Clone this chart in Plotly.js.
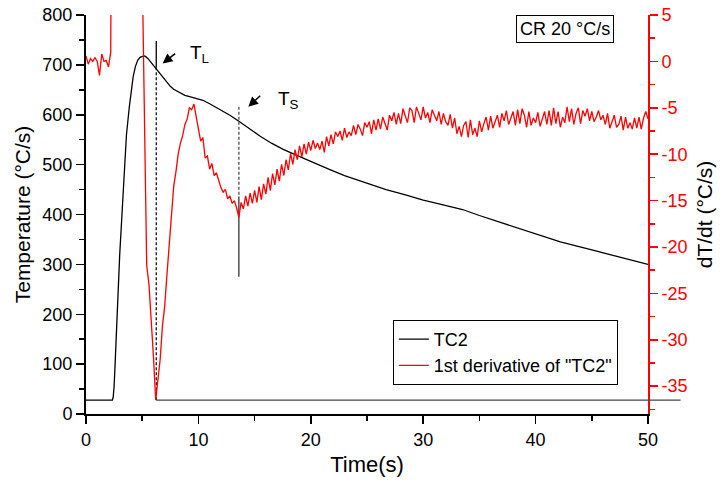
<!DOCTYPE html>
<html><head><meta charset="utf-8">
<script src="https://cdn.plot.ly/plotly-3.0.1.min.js"></script>
<style>html,body{margin:0;padding:0;background:#fff}#chart{width:722px;height:480px}</style>
</head><body><div id="chart"></div>
<script>
// ---- data ----
const tcTime = [0, 2.35, 2.42, 2.5, 2.58, 2.67, 2.8, 3.0, 3.2, 3.38, 3.6, 3.85, 4.0, 4.2, 4.4, 4.6, 4.8, 5.0, 5.15, 5.3, 5.5, 5.75, 6.0, 6.3, 6.6, 6.9, 7.2, 7.5, 7.8, 8.1, 8.4, 8.8, 9.3, 9.8, 10.4, 11.0, 11.9, 12.8, 13.6, 14.5, 15.5, 16.5, 17.5, 18.5, 19.5, 20.8, 21.7, 23.0, 24.5, 26.7, 28.5, 30.0, 31.5, 32.5, 33.5, 35.0, 37.5, 40.0, 42.2, 45.0, 47.5, 50.0];
const tcTemp = [28, 28, 34, 55, 95, 148, 220, 320, 400, 483, 560, 615, 645, 677, 697, 709, 715, 717.5, 718, 717, 713, 706, 699, 690, 681, 672, 664, 657, 651, 647, 643, 639, 636, 633, 629, 622, 611, 599, 587, 572, 557, 543, 531, 521, 511, 499, 490, 478, 466, 450, 439, 429, 421, 416, 410, 398, 380, 361, 345, 329, 314, 300];

const derivStep = 0.2; // sampling interval (s)
const derivRate = [
  0.6, -0.3, 0.3, 0.0, 0.4, 0.0, -1.5, 0.8, 0.0, 0.1,
  -0.6, 1.0, 60, 250, 480, 600, 560, 430, 300, 210,
  150, 100, 65, 40, 25, 10, -8, -22, -24, -27.5,
  -31.8, -36.5, -34.0, -32.1, -28.5, -26.4, -23, -19.5, -16.2, -13.5,
  -11.9, -10.0, -8.8, -8.0, -6.8, -6.2, -5.0, -5.2, -4.6, -6.0,
  -7.5, -8.6, -8.2, -10.4, -10.2, -11.6, -11.0, -12.3, -12.0, -12.8,
  -13.6, -14.1, -13.8, -14.8, -14.5, -15.3, -15.0, -15.8, -16.8, -15.2,
  -15.9, -14.5, -15.6, -14.2, -15.3, -13.9, -15.2, -13.5, -14.9, -13.2,
  -14.3, -12.5, -13.9, -12.1, -13.3, -11.6, -12.9, -11.1, -12.3, -10.6,
  -11.7, -9.9, -11.1, -9.5, -10.6, -9.1, -10.3, -8.9, -10.0, -8.7,
  -9.6, -8.5, -9.4, -8.8, -9.5, -8.6, -9.8, -8.1, -9.1, -7.9,
  -8.9, -7.6, -8.1, -7.5, -8.5, -7.2, -8.2, -7.6, -8.0, -6.9,
  -7.9, -6.8, -7.3, -8.0, -6.6, -7.1, -6.5, -7.8, -6.3, -7.4,
  -6.2, -7.3, -6.0, -6.7, -7.4, -5.8, -6.4, -5.5, -6.8, -5.6,
  -6.7, -5.1, -5.9, -6.6, -5.0, -5.3, -6.6, -4.9, -5.6, -6.3,
  -4.9, -6.1, -5.5, -6.6, -5.2, -5.8, -6.4, -5.4, -6.8, -5.6,
  -6.5, -6.9, -5.7, -7.2, -6.1, -7.8, -7.0, -8.1, -6.9, -6.5,
  -8.2, -6.3, -7.9, -7.2, -8.1, -6.4, -7.6, -6.7, -6.0, -7.4,
  -5.9, -7.2, -6.4, -5.8, -7.1, -5.6, -6.4, -5.3, -6.8, -6.1,
  -5.4, -6.9, -5.2, -6.7, -5.1, -5.8, -7.1, -5.4, -6.9, -6.1,
  -6.6, -5.5, -7.0, -6.2, -5.4, -6.8, -5.3, -6.9, -5.0, -6.7,
  -5.4, -7.1, -6.0, -6.6, -4.9, -6.5, -5.1, -6.8, -5.6, -5.0,
  -6.7, -5.3, -5.9, -5.1, -6.4, -5.4, -6.5, -6.0, -5.3, -6.3,
  -5.8, -6.8, -5.6, -7.2, -6.4, -5.8, -7.1, -6.8, -5.9, -7.4,
  -6.0, -7.2, -6.6, -7.3, -6.1, -7.2, -6.0, -7.3, -6.1, -5.4,
  -6.2
];
const derivTime = derivRate.map((_, i) => +(i * derivStep).toFixed(1));

const xRange = [0, 50];
const leftRange = [0, 800];
const rightRange = [-38, 5];
const rightTicks = [5, 0, -5, -10, -15, -20, -25, -30, -35];
const rightMinorTicks = [2.5, -2.5, -7.5, -12.5, -17.5, -22.5, -27.5, -32.5, -37.5];

// marker lines (T_L and T_S)
const tlTime = 6.25;
const tlSolid = [748, 695];
const tlDashed = [695, 28];
const tsTime = 13.6;
const tsDashed = [616, 436];
const tsSolid = [436, 275];

// baseline after T_L
const baseTemp = 28;
const baseStart = 6.25;
const baseEnd = 52.9;

// ---- plot ----
const FONT = 'Arial, "Liberation Sans", sans-serif';

const traces = [
  {x: tcTime, y: tcTemp, type: 'scatter', mode: 'lines', name: 'TC2',
   line: {color: '#000', width: 1.3}},
  {x: derivTime, y: derivRate, type: 'scatter', mode: 'lines', name: '1st derivative of "TC2"',
   yaxis: 'y2', line: {color: '#ff0000', width: 1.3}},
  {x: [tlTime, tlTime], y: tlSolid, mode: 'lines', showlegend: false, hoverinfo: 'skip',
   line: {color: '#000', width: 1.3}},
  {x: [tlTime, tlTime], y: tlDashed, mode: 'lines', showlegend: false, hoverinfo: 'skip',
   line: {color: '#000', width: 1.2, dash: '3px,2px'}},
  {x: [tsTime, tsTime], y: tsDashed, mode: 'lines', showlegend: false, hoverinfo: 'skip',
   line: {color: '#666', width: 1.5, dash: '3px,2px'}},
  {x: [tsTime, tsTime], y: tsSolid, mode: 'lines', showlegend: false, hoverinfo: 'skip',
   line: {color: '#333', width: 1.3}}
];

const axisCommon = {
  showline: true, linewidth: 2, showgrid: false, zeroline: false,
  ticks: 'outside', ticklen: 8, tickwidth: 1.5,
  tickfont: {family: FONT, size: 18}
};

const layout = {
  width: 722, height: 480,
  margin: {l: 86, r: 74, t: 15, b: 66, pad: 0},
  paper_bgcolor: '#fff', plot_bgcolor: '#fff',
  font: {family: FONT, color: '#000'},
  showlegend: true,
  xaxis: Object.assign({}, axisCommon, {
    range: xRange, tickmode: 'linear', tick0: 0, dtick: 10,
    linecolor: '#000', tickcolor: '#000',
    minor: {ticks: 'outside', dtick: 5, tick0: 0, ticklen: 5, tickwidth: 1.5, tickcolor: '#000', showgrid: false},
    title: {text: 'Time(s)', font: {family: FONT, size: 22}, standoff: 8}
  }),
  yaxis: Object.assign({}, axisCommon, {
    range: leftRange, tickmode: 'linear', tick0: 0, dtick: 100,
    linecolor: '#000', tickcolor: '#000',
    minor: {ticks: 'outside', dtick: 50, tick0: 0, ticklen: 5, tickwidth: 1.5, tickcolor: '#000', showgrid: false},
    title: {text: 'Temperature (°C/s)', font: {family: FONT, size: 21}, standoff: 6}
  }),
  yaxis2: Object.assign({}, axisCommon, {
    overlaying: 'y', side: 'right', range: rightRange,
    tickmode: 'array', tickvals: rightTicks, ticktext: rightTicks.map(String),
    linecolor: '#ff0000', tickcolor: '#ff0000',
    tickfont: {family: FONT, size: 18, color: '#ff0000'},
    minor: {ticks: 'outside', tickmode: 'array', tickvals: rightMinorTicks, ticklen: 5, tickwidth: 1.5, tickcolor: '#ff0000', showgrid: false},
    title: {text: 'dT/dt (°C/s)', font: {family: FONT, size: 21, color: '#000'}, standoff: 11}
  }),
  legend: {
    x: 0.546, y: 0.236, xanchor: 'left', yanchor: 'top',
    bordercolor: '#000', borderwidth: 1, bgcolor: '#fff',
    font: {family: FONT, size: 18, color: '#000'}, tracegroupgap: 0
  },
  shapes: [
    {type: 'line', xref: 'paper', yref: 'paper',
     x0: (baseStart - xRange[0]) / (xRange[1] - xRange[0]),
     x1: (baseEnd - xRange[0]) / (xRange[1] - xRange[0]),
     y0: (baseTemp - leftRange[0]) / (leftRange[1] - leftRange[0]),
     y1: (baseTemp - leftRange[0]) / (leftRange[1] - leftRange[0]),
     line: {color: '#444', width: 1.2}, layer: 'above'}
  ],
  annotations: [
    {xref: 'paper', yref: 'paper', x: 0.852, y: 0.964, xanchor: 'center', yanchor: 'middle',
     text: 'CR 20 °C/s', showarrow: false, bordercolor: '#000', borderwidth: 1, borderpad: 3,
     bgcolor: '#fff', font: {family: FONT, size: 18, color: '#000'}},
    {xref: 'x', yref: 'y', x: 9.1, y: 722, xanchor: 'left', yanchor: 'middle',
     text: 'T<sub>L</sub>', showarrow: false, font: {family: FONT, size: 19, color: '#000'}},
    {xref: 'x', yref: 'y', x: 16.9, y: 630, xanchor: 'left', yanchor: 'middle',
     text: 'T<sub>S</sub>', showarrow: false, font: {family: FONT, size: 19, color: '#000'}},
    {xref: 'x', yref: 'y', x: 6.82, y: 703, ax: 14, ay: -11, text: '', showarrow: true,
     arrowhead: 2, arrowsize: 1.3, arrowwidth: 1.5, arrowcolor: '#000'},
    {xref: 'x', yref: 'y', x: 14.44, y: 616, ax: 13.4, ay: -12.4, text: '', showarrow: true,
     arrowhead: 2, arrowsize: 1.3, arrowwidth: 1.5, arrowcolor: '#000'}
  ]
};

Plotly.newPlot('chart', traces, layout, {displayModeBar: false, staticPlot: true});
</script>
</body></html>
